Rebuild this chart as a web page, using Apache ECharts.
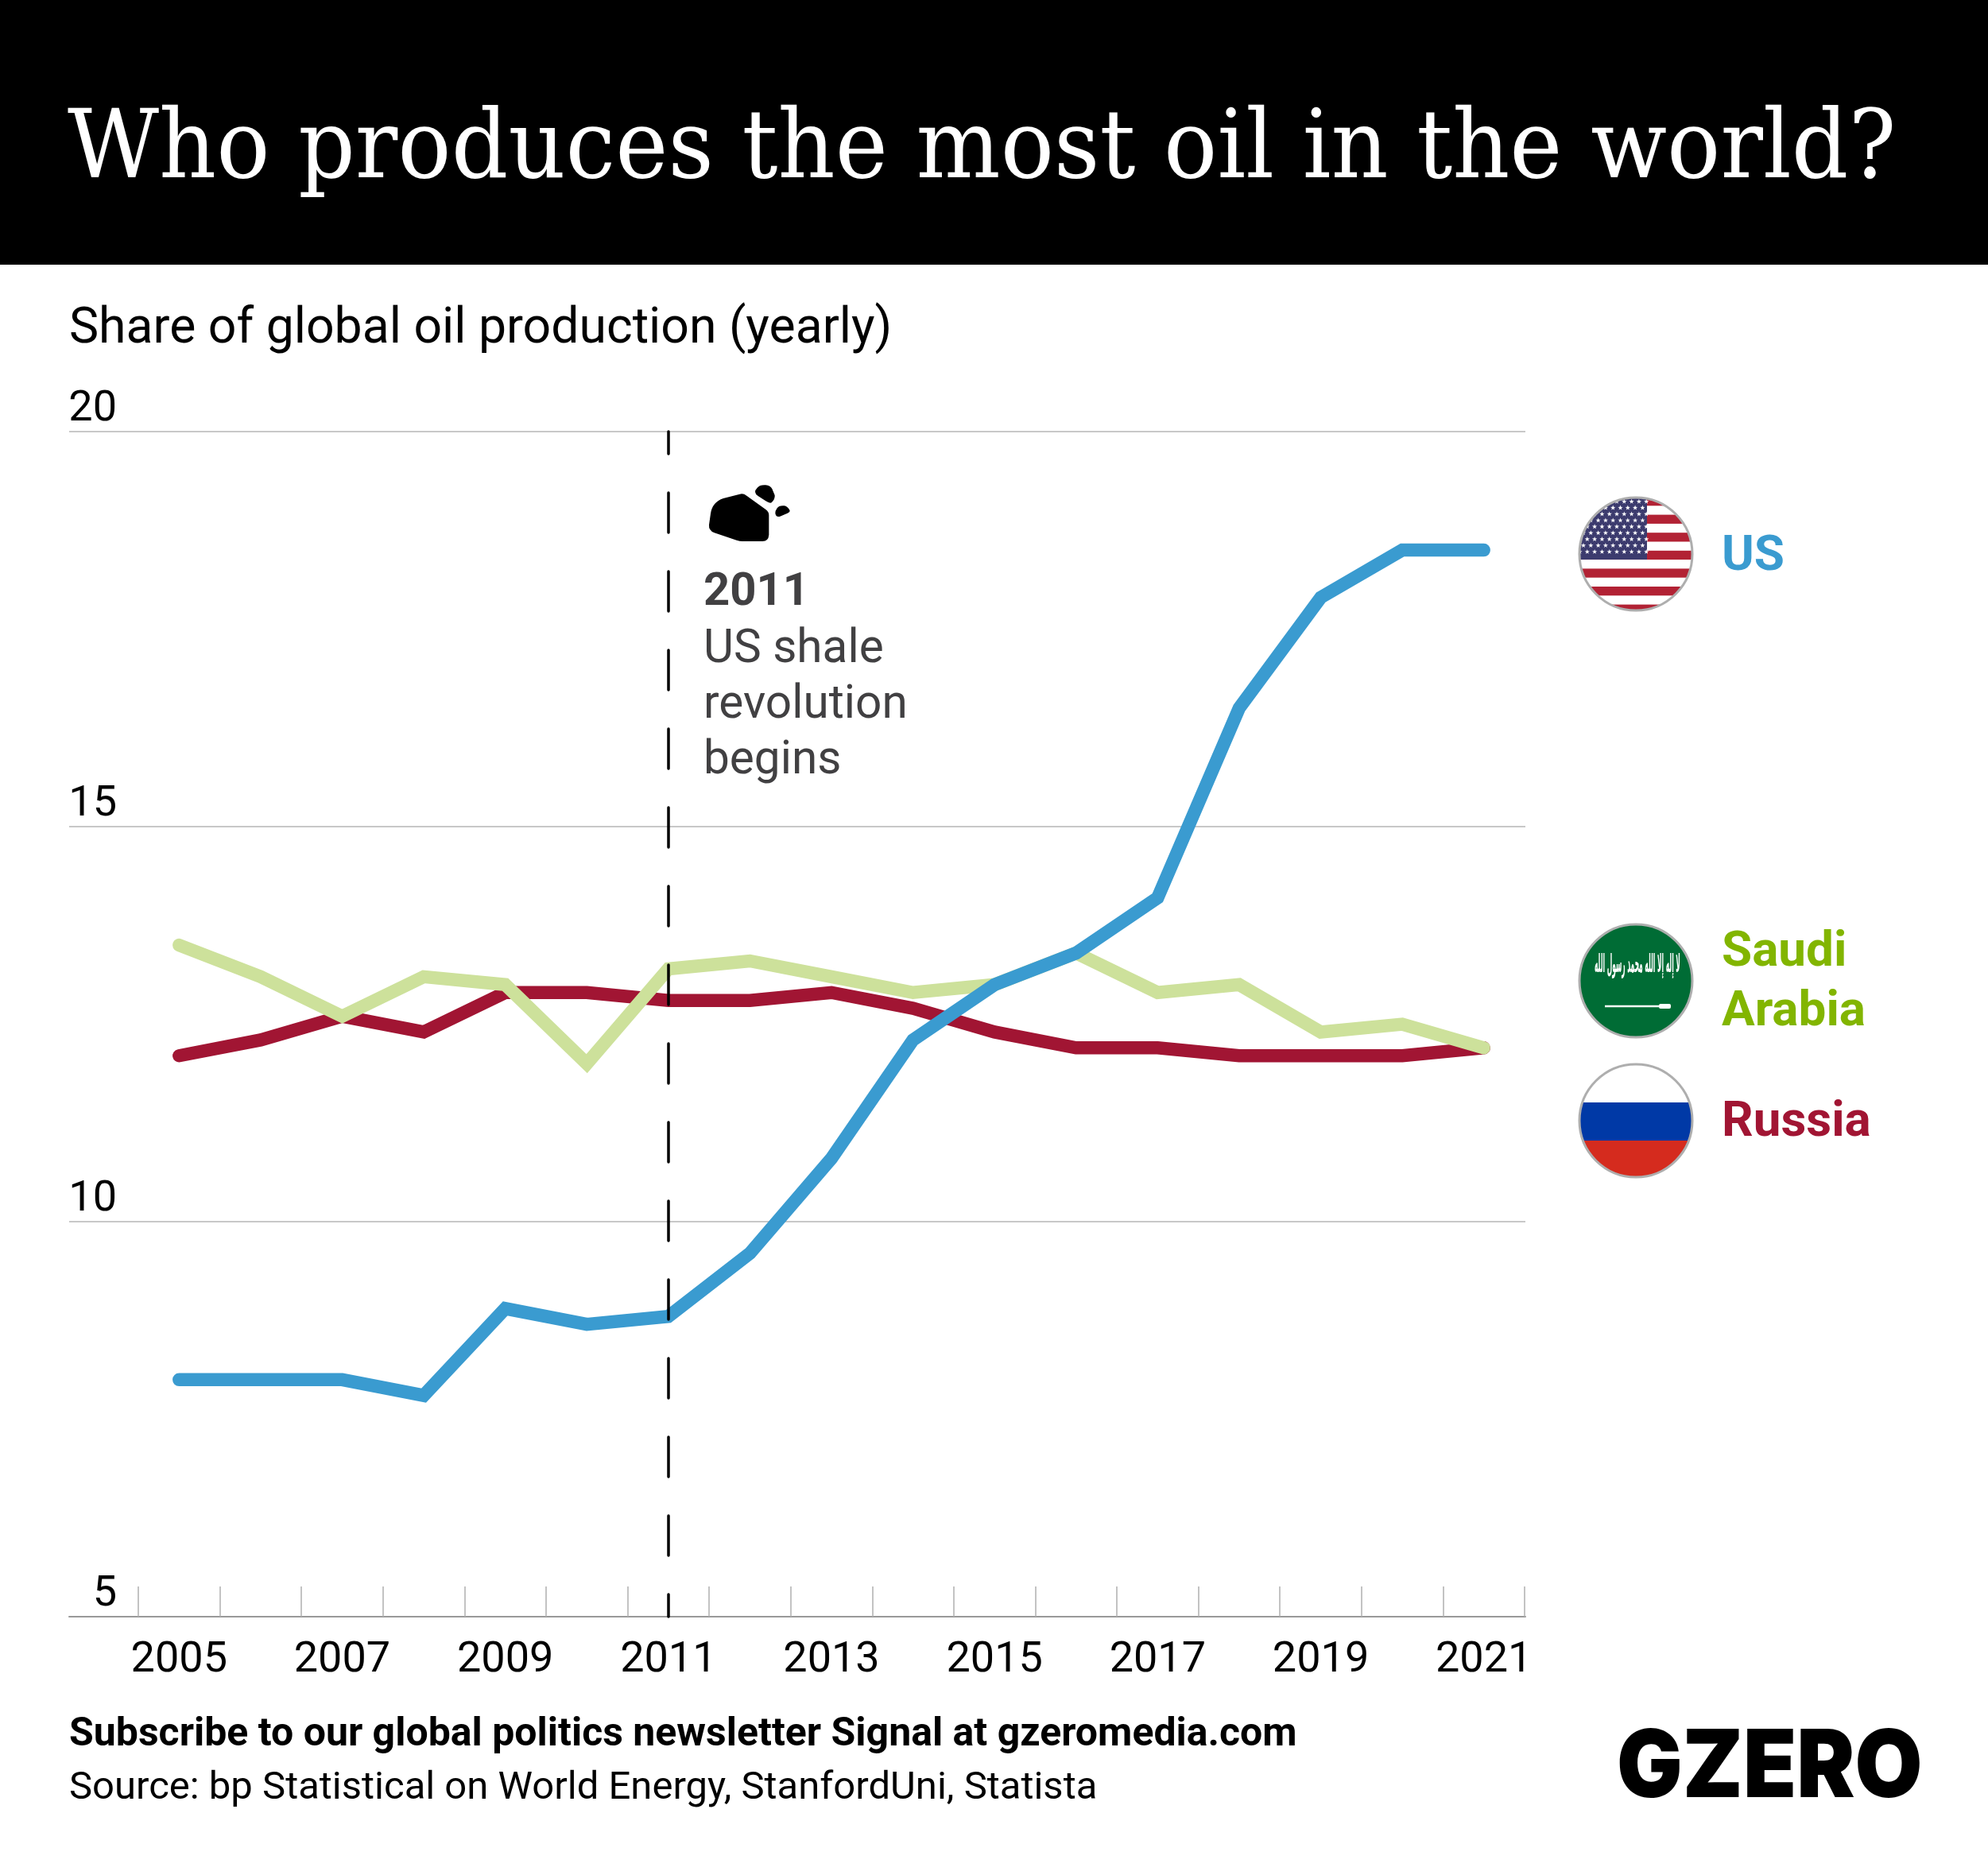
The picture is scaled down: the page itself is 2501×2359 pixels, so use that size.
<!DOCTYPE html>
<html>
<head>
<meta charset="utf-8">
<title>Who produces the most oil in the world?</title>
<style>html,body{margin:0;padding:0;background:#fff}#main{width:2501px;height:2359px}</style>
<script src="https://cdn.jsdelivr.net/npm/echarts@6/dist/echarts.min.js"></script>
</head>
<body>
<div id="main"></div>
<script>
// values, share of global production in %
const years = ['2005','2006','2007','2008','2009','2010','2011','2012','2013','2014','2015','2016','2017','2018','2019','2020','2021'];
const us     = [8.0,8.0,8.0,7.8,8.9,8.7,8.8,9.6,10.8,12.3,13.0,13.4,14.1,16.5,17.9,18.5,18.5];
const saudi  = [13.5,13.1,12.6,13.1,13.0,12.0,13.2,13.3,13.1,12.9,13.0,13.4,12.9,13.0,12.4,12.5,12.2];
const russia = [12.1,12.3,12.6,12.4,12.9,12.9,12.8,12.8,12.9,12.7,12.4,12.2,12.2,12.1,12.1,12.1,12.2];
const shaleYear = '2011';

const FONT = 'Roboto';
const BLUE = '#3a9bd0', LIGHT = '#cde19b', DARK = '#a11533', GREEN_TXT = '#82b500', GREY_TXT = '#414042';

function svgUri(s) { return 'data:image/svg+xml;charset=utf-8,' + encodeURIComponent(s); }

function starPts(cx, cy, r) {
  let p = [];
  for (let i = 0; i < 10; i++) {
    const a = -Math.PI / 2 + i * Math.PI / 5, q = i % 2 ? r * 0.4 : r;
    p.push((cx + q * Math.cos(a)).toFixed(2) + ',' + (cy + q * Math.sin(a)).toFixed(2));
  }
  return p.join(' ');
}

function flagSvg(inner) {
  return svgUri('<svg xmlns="http://www.w3.org/2000/svg" width="150" height="150" viewBox="0 0 150 150">' +
    '<defs><clipPath id="c"><circle cx="75" cy="75" r="71"/></clipPath></defs>' +
    '<g clip-path="url(#c)">' + inner + '</g>' +
    '<circle cx="75" cy="75" r="71" fill="none" stroke="#aeaeae" stroke-width="3"/></svg>');
}

// us flag
let usInner = '<rect width="150" height="150" fill="#fff"/>';
for (let i = 0; i < 7; i++) usInner += '<rect x="0" y="' + (3 + i * 22.6) + '" width="150" height="11.3" fill="#b22234"/>';
usInner += '<rect x="0" y="3" width="89" height="79" fill="#3c3b6e"/>';
for (let r = 0; r < 9; r++) {
  const odd = r % 2 === 1;
  for (let c = 0; c < (odd ? 9 : 10); c++) {
    usInner += '<polygon fill="#fff" points="' + starPts((odd ? 9 : 4.5) + c * 9.3, 9 + r * 7.9, 3.3) + '"/>';
  }
}
const usFlag = flagSvg(usInner);
const ruFlag = flagSvg('<rect width="150" height="150" fill="#fff"/><rect y="52" width="150" height="48" fill="#0039a6"/><rect y="100" width="150" height="50" fill="#d52b1e"/>');
const saFlag = flagSvg('<rect width="150" height="150" fill="#006c35"/>');
// shale rock icon, traced in a 400x480 box
const rockIcon = svgUri('<svg xmlns="http://www.w3.org/2000/svg" width="320" height="240" viewBox="270 260 320 240"><path fill="#000" d="M392 304 Q405 300 418 310 L490 362 Q502 370 502 384 L502 458 Q500 482 478 482 L402 482 Q392 482 380 478 L296 450 Q274 442 276 420 L282 378 Q288 334 330 320 Z M458 280 Q468 268 490 270 Q508 272 514 284 L524 308 Q526 322 512 336 Q505 340 490 330 L462 312 Q440 298 458 280 Z M532 358 Q540 346 560 348 Q572 350 580 364 Q584 370 572 376 L544 388 Q528 392 526 376 Q526 366 532 358 Z"/></svg>');

function txt(x, y, text, size, weight, color, extra) {
  return {
    type: 'text', x: x, y: y, silent: true,
    style: Object.assign({ text: text, fontFamily: FONT, fontSize: size, fontWeight: weight, fill: color, textAlign: 'left', textVerticalAlign: 'middle' }, extra || {})
  };
}
function flag(cy, img) {
  return { type: 'image', x: 1983, y: cy - 75, silent: true, style: { image: img, x: 0, y: 0, width: 150, height: 150 } };
}

const titleText = txt(85, 192, 'Who produces the most oil in the world?', 120, 400, '#fff', { fontFamily: '"DejaVu Serif"' });
titleText.scaleX = 0.933;
const logoText = txt(2034, 2226, 'GZERO', 118, 900, '#000', { fontFamily: 'Inter' });
logoText.scaleX = 0.93;
const inscription = {
  type: 'text', x: 2060, y: 1215, silent: true, scaleX: 0.235,
  style: { text: 'لا إله إلا الله محمد رسول الله', fontFamily: '"DejaVu Sans"', fontSize: 32, fontWeight: 700, fill: '#fff', textAlign: 'center', textVerticalAlign: 'middle' }
};

const graphics = [
  { type: 'rect', silent: true, z: -1, shape: { x: 0, y: 0, width: 2501, height: 333 }, style: { fill: '#000' } },
  titleText,
  txt(87, 415, 'Share of global oil production (yearly)', 62.5, 400, '#000'),
  { type: 'image', x: 890, y: 607, silent: true, style: { image: rockIcon, x: 0, y: 0, width: 106.67, height: 80 } },
  txt(885, 746, '2011', 58, 700, GREY_TXT),
  txt(885, 818, 'US shale', 58.5, 400, GREY_TXT),
  txt(885, 888, 'revolution', 58.5, 400, GREY_TXT),
  txt(885, 958, 'begins', 58.5, 400, GREY_TXT),
  // legend
  flag(697, usFlag),
  txt(2166, 701, 'US', 62, 700, BLUE),
  flag(1234, saFlag),
  inscription,
  { type: 'line', silent: true, shape: { x1: 2019, y1: 1266, x2: 2090, y2: 1266 }, style: { stroke: '#fff', lineWidth: 2.5 } },
  { type: 'rect', silent: true, shape: { x: 2087, y: 1263, width: 15, height: 6, r: 2 }, style: { fill: '#fff' } },
  txt(2166, 1199, 'Saudi', 62, 700, GREEN_TXT),
  txt(2166, 1274, 'Arabia', 62, 700, GREEN_TXT),
  flag(1410, ruFlag),
  txt(2166, 1413, 'Russia', 62, 700, DARK),
  // footer
  txt(87, 2183, 'Subscribe to our global politics newsletter Signal at gzeromedia.com', 50, 700, '#000'),
  txt(87, 2251, 'Source: bp Statistical on World Energy, StanfordUni, Statista', 49, 400, '#000'),
  logoText
];

const chart = echarts.init(document.getElementById('main'), null, { renderer: 'canvas' });
chart.setOption({
  animation: false,
  backgroundColor: '#fff',
  graphic: graphics,
  grid: [
    { left: 174, right: 583, top: 543, bottom: 325 },
    { left: 87, right: 582, top: 543, bottom: 325 }
  ],
  xAxis: [
    {
      type: 'category', data: years, gridIndex: 0, boundaryGap: true,
      axisLine: { show: false },
      axisTick: { show: true, inside: true, length: 38, interval: 0, lineStyle: { color: '#b0b0b0', width: 1.5 } },
      axisLabel: { interval: 1, margin: 28, color: '#000', fontFamily: FONT, fontSize: 54, showMinLabel: true, showMaxLabel: true, hideOverlap: false }
    },
    {
      type: 'category', data: years, gridIndex: 1,
      axisLine: { show: true, lineStyle: { color: '#999', width: 2 } },
      axisTick: { show: false }, axisLabel: { show: false }
    }
  ],
  yAxis: [
    {
      type: 'value', gridIndex: 0, min: 5, max: 20, interval: 5,
      axisLine: { show: false }, axisTick: { show: false }, splitLine: { show: false },
      axisLabel: { margin: 27, color: '#000', fontFamily: FONT, fontSize: 54, verticalAlign: 'bottom', lineHeight: 54, padding: [0, 0, 1, 0] }
    },
    {
      type: 'value', gridIndex: 1, min: 5, max: 20, interval: 5,
      axisLine: { show: false }, axisTick: { show: false }, axisLabel: { show: false },
      splitLine: { show: true, lineStyle: { color: '#c8c8c8', width: 2 } }
    }
  ],
  series: [
    { name: 'Russia', type: 'line', data: russia, showSymbol: false, silent: true,
      lineStyle: { color: DARK, width: 16.5, cap: 'round', join: 'miter' } },
    { name: 'Saudi Arabia', type: 'line', data: saudi, showSymbol: false, silent: true,
      lineStyle: { color: LIGHT, width: 16.5, cap: 'round', join: 'miter' } },
    { name: 'US', type: 'line', data: us, showSymbol: false, silent: true,
      lineStyle: { color: BLUE, width: 16.5, cap: 'round', join: 'miter' },
      markLine: {
        silent: true, symbol: 'none', animation: false, label: { show: false },
        lineStyle: { color: '#000', width: 3.5, type: [50, 49], dashOffset: 22, cap: 'round' },
        data: [[{ coord: [shaleYear, 20] }, { coord: [shaleYear, 5] }]]
      } }
  ]
});
</script>
</body>
</html>
